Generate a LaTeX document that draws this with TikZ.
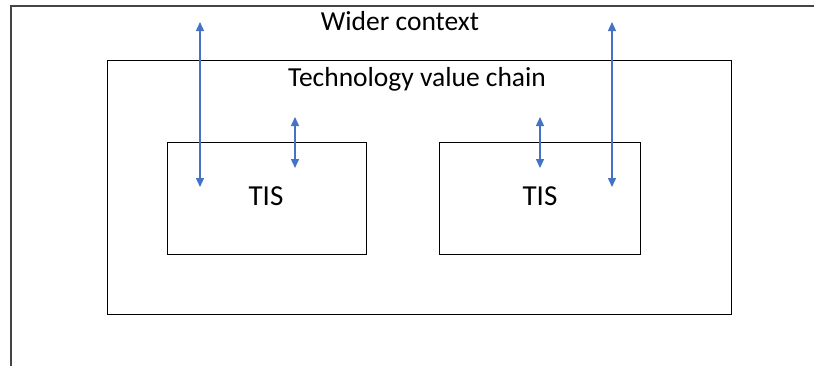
\documentclass[tikz,border=0pt]{standalone}
\usepackage{fontspec}
\setmainfont{Carlito}
\usetikzlibrary{arrows.meta}
\definecolor{arrowblue}{HTML}{4472C4}
\definecolor{frame}{HTML}{444444}
\tikzset{
  box/.style={draw=black, line width=1pt},
  outerframe/.style={draw=frame, line width=1.6pt},
  label/.style={inner sep=0pt, font=\fontsize{27.5}{30}\selectfont},
  tislabel/.style={inner sep=0pt, font=\fontsize{29}{32}\selectfont},
  link/.style={draw=arrowblue, line width=1.4pt, {Triangle[length=9pt,width=8pt]}-{Triangle[length=9pt,width=8pt]}}
}
\begin{document}
\begin{tikzpicture}[x=1pt,y=-1pt]
  \useasboundingbox (0,0) rectangle (814,365);
  \clip (0,0) rectangle (814,365);
  % outer context frame, running off the right and bottom edges
  \draw[outerframe] (11,380) -- (11,6) -- (830,6);
  \node[label, anchor=base] (wider) at (400,30) {Wider context};
  % technology value chain
  \draw[box] (107,60) rectangle (731,314);
  \node[label, anchor=base] (chain) at (417,86) {Technology value chain};
  % two innovation systems
  \node[box, minimum width=199pt, minimum height=112pt, anchor=north west] (tisA) at (167,142) {};
  \node[box, minimum width=201pt, minimum height=112pt, anchor=north west] (tisB) at (439,142) {};
  \node[tislabel, anchor=base] (tisAtext) at (266,205) {TIS};
  \node[tislabel, anchor=base] (tisBtext) at (540,205) {TIS};
  % interaction arrows
  \coordinate (a1) at (200,22);  \coordinate (a2) at (200,187);
  \coordinate (b1) at (295,117); \coordinate (b2) at (295,168);
  \coordinate (c1) at (540,117); \coordinate (c2) at (540,168);
  \coordinate (d1) at (612,22);  \coordinate (d2) at (612,187);
  \draw[link] (a1) -- (a2);
  \draw[link] (b1) -- (b2);
  \draw[link] (c1) -- (c2);
  \draw[link] (d1) -- (d2);
\end{tikzpicture}
\end{document}
